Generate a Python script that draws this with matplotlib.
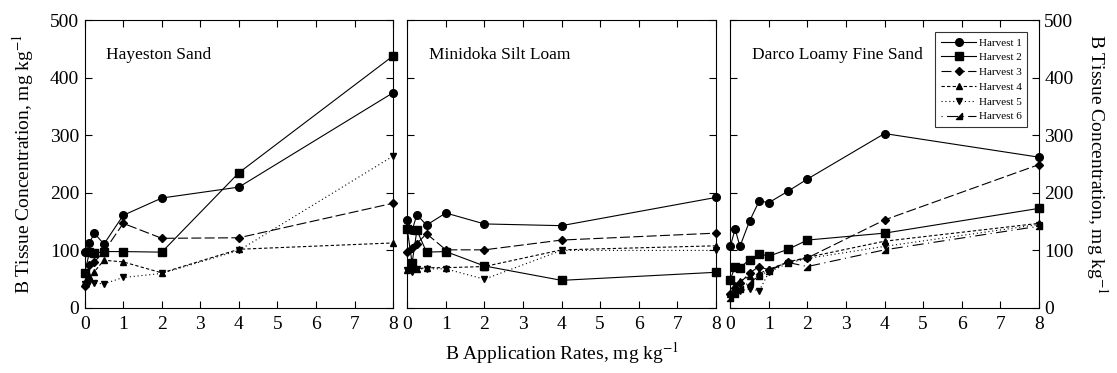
import matplotlib
matplotlib.use("Agg")
import matplotlib.pyplot as plt
from matplotlib.path import Path

plt.rcParams['font.family'] = ['Liberation Serif', 'DejaVu Serif']
plt.rcParams['mathtext.fontset'] = 'stix'

# Application rates (mg kg-1)
rates_a = [0, 0.125, 0.25, 0.5, 1, 2, 4, 8]
rates_c = [0, 0.125, 0.25, 0.5, 0.75, 1, 1.5, 2, 4, 8]

soils = ["Hayeston Sand", "Minidoka Silt Loam", "Darco Loamy Fine Sand"]

# Hayeston Sand
hay_h1 = [98, 113, 130, 111, 161, 191, 210, 374]
hay_h2 = [61, 97, 95, 98, 98, 97, 235, 438]
hay_h3 = [38, 75, 80, 98, 147, 121, 122, 182]
hay_h4 = [45, 55, 63, 83, 80, 61, 102, 113]
hay_h5 = [42, 45, 43, 42, 53, 60, 100, 264]

# Minidoka Silt Loam
min_h1 = [152, 135, 162, 144, 165, 146, 143, 192]
min_h2 = [137, 78, 135, 97, 98, 73, 48, 62]
min_h3 = [97, 105, 112, 129, 101, 101, 118, 130]
min_h4 = [66, 75, 68, 70, 70, 72, 101, 108]
min_h5 = [66, 62, 68, 68, 68, 50, 100, 100]

# Darco Loamy Fine Sand
dar_h1 = [107, 137, 107, 151, 186, 183, 203, 224, 303, 262]
dar_h2 = [49, 72, 70, 84, 94, 90, 102, 118, 130, 173]
dar_h3 = [25, 35, 43, 61, 72, 66, 80, 87, 153, 249]
dar_h4 = [25, 40, 47, 55, 60, 67, 80, 88, 116, 147]
dar_h5 = [20, 28, 30, 33, 30, 62, 78, 86, 107, 145]
dar_h6 = [17, 25, 33, 45, 55, 65, 79, 72, 101, 142]

harvest_labels = ["Harvest 1", "Harvest 2", "Harvest 3", "Harvest 4", "Harvest 5", "Harvest 6"]

wedge = Path([(-1, -1), (1, -1), (1, 1), (-1, -1)],
             [Path.MOVETO, Path.LINETO, Path.LINETO, Path.CLOSEPOLY])

styles = [
    dict(marker='o', ms=5.5, ls='-'),
    dict(marker='s', ms=5.5, ls='-'),
    dict(marker='D', ms=3.8, ls=(0, (9, 3))),
    dict(marker='^', ms=4.5, ls=(0, (3, 2))),
    dict(marker='v', ms=4.5, ls=(0, (1, 2.5))),
    dict(marker=wedge, ms=5, ls=(0, (1, 4, 10, 4))),
]

panels = [
    (rates_a, [hay_h1, hay_h2, hay_h3, hay_h4, hay_h5]),
    (rates_a, [min_h1, min_h2, min_h3, min_h4, min_h5]),
    (rates_c, [dar_h1, dar_h2, dar_h3, dar_h4, dar_h5, dar_h6]),
]

fig = plt.figure(figsize=(11.17, 3.73), dpi=100)
lefts = [0.0758, 0.3646, 0.6538]
width = 0.2762
bottom = 0.1743
height = 0.946 - 0.1743

axes = []
for i, (xs, series) in enumerate(panels):
    ax = fig.add_axes([lefts[i], bottom, width, height])
    axes.append(ax)
    for k, ys in enumerate(series):
        st = styles[k]
        ax.plot(xs, ys, color='black', lw=0.8, linestyle=st['ls'],
                marker=st['marker'], ms=st['ms'], mfc='black', mec='black',
                label=harvest_labels[k], clip_on=False, zorder=3)
    ax.set_xlim(0, 8)
    ax.set_ylim(0, 500)
    ax.set_xticks(range(0, 9))
    ax.set_yticks(range(0, 501, 100))
    ax.tick_params(direction='in', top=True, right=True, length=5, width=0.8,
                   labelsize=14, pad=4)
    ax.tick_params(axis='x', pad=6)
    if i == 0:
        ax.tick_params(labelleft=True, labelright=False)
    elif i == 2:
        ax.tick_params(labelleft=False, labelright=True)
    else:
        ax.tick_params(labelleft=False, labelright=False)
    for sp in ax.spines.values():
        sp.set_linewidth(0.8)
    ax.text(0.07, 0.88, soils[i], transform=ax.transAxes, fontsize=12.5,
            ha='left', va='center')

axes[0].set_ylabel("B Tissue Concentration, mg kg$^{-1}$", fontsize=14, labelpad=10)
axes[2].yaxis.set_label_position('right')
axes[2].set_ylabel("B Tissue Concentration, mg kg$^{-1}$", fontsize=14,
                   rotation=270, labelpad=26)

leg = axes[2].legend(loc='upper right', bbox_to_anchor=(0.962, 0.958),
                     fontsize=8, frameon=True, fancybox=False,
                     handlelength=3.2, handletextpad=0.2, labelspacing=0.45,
                     borderpad=0.5, borderaxespad=0)
leg.get_frame().set_edgecolor('black')
leg.get_frame().set_linewidth(0.8)

fig.text(0.503, 0.035, "B Application Rates, mg kg$^{-1}$", fontsize=14,
         ha='center', va='baseline')

fig.savefig("out.png", dpi=100)
